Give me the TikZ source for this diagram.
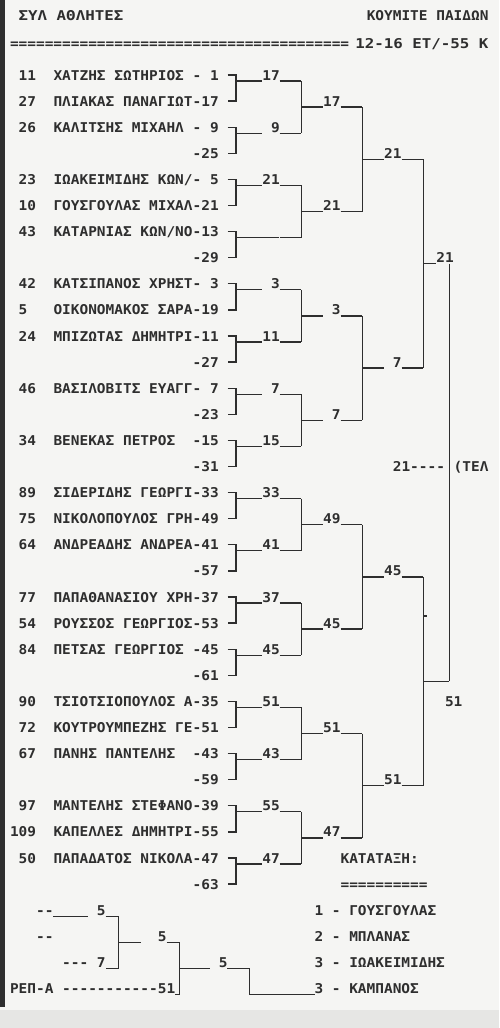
\documentclass[tikz,border=0pt]{standalone}
\usepackage{fontspec}
\newfontfamily\prn[FakeStretch=1.07,Ligatures=TeXOff]{DejaVu Sans Mono}
\newfontfamily\prnw[FakeStretch=1.17,Ligatures=TeXOff]{DejaVu Sans Mono}
\definecolor{ink}{HTML}{2E2E2E}
\definecolor{paper}{HTML}{F5F5F3}
\newcommand\ry[1]{75+26.1*(#1-1)}
\newcommand\cx[1]{10+8.7*(#1)}

\begin{document}
\begin{tikzpicture}[x=1pt,y=-1pt,line width=1.3pt,draw=ink,
  prn/.style={font={\prn\bfseries\fontsize{13.5}{14}\selectfont},text=ink,inner sep=0pt,outer sep=0pt,anchor=base west},
  prr/.style={prn,anchor=base east},
  wide/.style={prn,font={\prnw\bfseries\fontsize{13.5}{14}\selectfont}}]
\fill[paper] (0,0) rectangle (499,1028);
\fill[paper!94!black] (0,1010) rectangle (499,1028);
\useasboundingbox (0,0) rectangle (499,1028);
\fill[ink] (0,0) rectangle (4.5,1007);

% header
\node[wide] (hl) at ({\cx{1}},20) {ΣΥΛ ΑΘΛΗΤΕΣ};
\node[prr] (hr) at ({\cx{55}},20) {ΚΟΥΜΙΤΕ ΠΑΙΔΩΝ};
\node[prn] (eq) at ({\cx{0}},48) {=======================================};
\node[wide,anchor=base east] (ag) at ({\cx{55}},48) {12-16 ΕΤ/-55 Κ};

% players
\node[prn] (p1) at ({\cx{1}},{\ry{1}+5}) {11};
\node[prn] (t1) at ({\cx{5}},{\ry{1}+5}) {ΧΑΤΖΗΣ ΣΩΤΗΡΙΟΣ - 1};
\node[prn] (p2) at ({\cx{1}},{\ry{2}+5}) {27};
\node[prn] (t2) at ({\cx{5}},{\ry{2}+5}) {ΠΛΙΑΚΑΣ ΠΑΝΑΓΙΩΤ-17};
\node[prn] (p3) at ({\cx{1}},{\ry{3}+5}) {26};
\node[prn] (t3) at ({\cx{5}},{\ry{3}+5}) {ΚΑΛΙΤΣΗΣ ΜΙΧΑΗΛ - 9};
\node[prr] (t4) at ({\cx{24}},{\ry{4}+5}) {-25};
\node[prn] (p5) at ({\cx{1}},{\ry{5}+5}) {23};
\node[prn] (t5) at ({\cx{5}},{\ry{5}+5}) {ΙΩΑΚΕΙΜΙΔΗΣ ΚΩΝ/- 5};
\node[prn] (p6) at ({\cx{1}},{\ry{6}+5}) {10};
\node[prn] (t6) at ({\cx{5}},{\ry{6}+5}) {ΓΟΥΣΓΟΥΛΑΣ ΜΙΧΑΛ-21};
\node[prn] (p7) at ({\cx{1}},{\ry{7}+5}) {43};
\node[prn] (t7) at ({\cx{5}},{\ry{7}+5}) {ΚΑΤΑΡΝΙΑΣ ΚΩΝ/ΝΟ-13};
\node[prr] (t8) at ({\cx{24}},{\ry{8}+5}) {-29};
\node[prn] (p9) at ({\cx{1}},{\ry{9}+5}) {42};
\node[prn] (t9) at ({\cx{5}},{\ry{9}+5}) {ΚΑΤΣΙΠΑΝΟΣ ΧΡΗΣΤ- 3};
\node[prn] (p10) at ({\cx{1}},{\ry{10}+5}) {5};
\node[prn] (t10) at ({\cx{5}},{\ry{10}+5}) {ΟΙΚΟΝΟΜΑΚΟΣ ΣΑΡΑ-19};
\node[prn] (p11) at ({\cx{1}},{\ry{11}+5}) {24};
\node[prn] (t11) at ({\cx{5}},{\ry{11}+5}) {ΜΠΙΖΩΤΑΣ ΔΗΜΗΤΡΙ-11};
\node[prr] (t12) at ({\cx{24}},{\ry{12}+5}) {-27};
\node[prn] (p13) at ({\cx{1}},{\ry{13}+5}) {46};
\node[prn] (t13) at ({\cx{5}},{\ry{13}+5}) {ΒΑΣΙΛΟΒΙΤΣ ΕΥΑΓΓ- 7};
\node[prr] (t14) at ({\cx{24}},{\ry{14}+5}) {-23};
\node[prn] (p15) at ({\cx{1}},{\ry{15}+5}) {34};
\node[prn] (t15) at ({\cx{5}},{\ry{15}+5}) {ΒΕΝΕΚΑΣ ΠΕΤΡΟΣ~~-15};
\node[prr] (t16) at ({\cx{24}},{\ry{16}+5}) {-31};
\node[prn] (p17) at ({\cx{1}},{\ry{17}+5}) {89};
\node[prn] (t17) at ({\cx{5}},{\ry{17}+5}) {ΣΙΔΕΡΙΔΗΣ ΓΕΩΡΓΙ-33};
\node[prn] (p18) at ({\cx{1}},{\ry{18}+5}) {75};
\node[prn] (t18) at ({\cx{5}},{\ry{18}+5}) {ΝΙΚΟΛΟΠΟΥΛΟΣ ΓΡΗ-49};
\node[prn] (p19) at ({\cx{1}},{\ry{19}+5}) {64};
\node[prn] (t19) at ({\cx{5}},{\ry{19}+5}) {ΑΝΔΡΕΑΔΗΣ ΑΝΔΡΕΑ-41};
\node[prr] (t20) at ({\cx{24}},{\ry{20}+5}) {-57};
\node[prn] (p21) at ({\cx{1}},{\ry{21}+5}) {77};
\node[prn] (t21) at ({\cx{5}},{\ry{21}+5}) {ΠΑΠΑΘΑΝΑΣΙΟΥ ΧΡΗ-37};
\node[prn] (p22) at ({\cx{1}},{\ry{22}+5}) {54};
\node[prn] (t22) at ({\cx{5}},{\ry{22}+5}) {ΡΟΥΣΣΟΣ ΓΕΩΡΓΙΟΣ-53};
\node[prn] (p23) at ({\cx{1}},{\ry{23}+5}) {84};
\node[prn] (t23) at ({\cx{5}},{\ry{23}+5}) {ΠΕΤΣΑΣ ΓΕΩΡΓΙΟΣ -45};
\node[prr] (t24) at ({\cx{24}},{\ry{24}+5}) {-61};
\node[prn] (p25) at ({\cx{1}},{\ry{25}+5}) {90};
\node[prn] (t25) at ({\cx{5}},{\ry{25}+5}) {ΤΣΙΟΤΣΙΟΠΟΥΛΟΣ Α-35};
\node[prn] (p26) at ({\cx{1}},{\ry{26}+5}) {72};
\node[prn] (t26) at ({\cx{5}},{\ry{26}+5}) {ΚΟΥΤΡΟΥΜΠΕΖΗΣ ΓΕ-51};
\node[prn] (p27) at ({\cx{1}},{\ry{27}+5}) {67};
\node[prn] (t27) at ({\cx{5}},{\ry{27}+5}) {ΠΑΝΗΣ ΠΑΝΤΕΛΗΣ~~-43};
\node[prr] (t28) at ({\cx{24}},{\ry{28}+5}) {-59};
\node[prn] (p29) at ({\cx{1}},{\ry{29}+5}) {97};
\node[prn] (t29) at ({\cx{5}},{\ry{29}+5}) {ΜΑΝΤΕΛΗΣ ΣΤΕΦΑΝΟ-39};
\node[prn] (p30) at ({\cx{0}},{\ry{30}+5}) {109};
\node[prn] (t30) at ({\cx{5}},{\ry{30}+5}) {ΚΑΠΕΛΛΕΣ ΔΗΜΗΤΡΙ-55};
\node[prn] (p31) at ({\cx{1}},{\ry{31}+5}) {50};
\node[prn] (t31) at ({\cx{5}},{\ry{31}+5}) {ΠΑΠΑΔΑΤΟΣ ΝΙΚΟΛΑ-47};
\node[prr] (t32) at ({\cx{24}},{\ry{32}+5}) {-63};

% first round
\foreach \r/\v [count=\i] in {1/17,3/~9,5/21,7/{},9/~3,11/11,13/~7,15/15,17/33,19/41,21/37,23/45,25/51,27/43,29/55,31/47}{
  \coordinate (b\i) at (236,{\ry{\r}+6});
  \coordinate (c\i) at ({\cx{33}+4.35},{\ry{\r}+6});
  \node[prr] (m\i) at ({\cx{31}},{\ry{\r}+5}) {\v};
  \draw ({\cx{25}},{\ry{\r}}) -- (236,{\ry{\r}}) -- (236,{\ry{\r+1}}) -- ({\cx{25}},{\ry{\r+1}});
  \draw (b\i) -- (m\i.west |- b\i);
  \draw (m\i.east |- b\i) -- (c\i);
}
% second round
\foreach \p/\v [count=\i, evaluate=\i as \j using int(2*\i-1), evaluate=\i as \k using int(2*\i)] in {2/17,6/21,10/~3,14/~7,18/49,22/45,26/51,30/47}{
  \coordinate (d\i) at ({\cx{33}+4.35},{\ry{\p}+6});
  \coordinate (e\i) at ({\cx{40}+4.35},{\ry{\p}+6});
  \node[prr] (k\i) at ({\cx{38}},{\ry{\p}+5}) {\v};
  \draw (c\j) -- (c\k);
  \draw (d\i) -- (k\i.west |- d\i);
  \draw (k\i.east |- d\i) -- (e\i);
}
% third round
\foreach \p/\v [count=\i, evaluate=\i as \j using int(2*\i-1), evaluate=\i as \k using int(2*\i)] in {4/21,12/~7,20/45,28/51}{
  \coordinate (f\i) at ({\cx{40}+4.35},{\ry{\p}+6});
  \coordinate (g\i) at ({\cx{47}+4.35},{\ry{\p}+6});
  \node[prr] (l\i) at ({\cx{45}},{\ry{\p}+5}) {\v};
  \draw (e\j) -- (e\k);
  \draw (f\i) -- (l\i.west |- f\i);
  \draw (l\i.east |- f\i) -- (g\i);
}
% semi finals and final
\coordinate (h1) at ({\cx{47}+4.35},{\ry{8}+6});
\coordinate (h2) at ({\cx{47}+4.35},{\ry{24}+6});
\coordinate (z1) at ({\cx{50}+4.35},{\ry{8}+6});
\coordinate (z2) at ({\cx{50}+4.35},{\ry{24}+6});
\node[prr] (w1) at ({\cx{51}},{\ry{8}+5}) {21};
\node[prn] (w2) at ({\cx{50}},{\ry{25}+5}) {51};
\draw (g1) -- (g2);
\draw (g3) -- (g4);
\draw (h1) -- (w1.west |- h1);
\draw (h2) -- (z2);
\draw (z1) -- (z2);
\draw (h2 |- 0,616) -- ++(4,0);
\node[prn] (fs) at ({\cx{44}},{\ry{16}+5}) {21----};
\node[prn] (fn) at ({\cx{51}},{\ry{16}+5}) {(ΤΕΛ};

% repechage
\node[prn] (q1) at ({\cx{3}},{\ry{33}+5}) {--};
\node[prn] (q2) at ({\cx{3}},{\ry{34}+5}) {--};
\node[prn] (q3) at ({\cx{6}},{\ry{35}+5}) {--- 7};
\node[prn] (q4) at ({\cx{0}},{\ry{36}+5}) {ΡΕΠ-Α -----------51};
\node[prn] (s1) at ({\cx{9}},{\ry{33}+5}) {~5};
\node[prn] (s2) at ({\cx{15}},{\ry{34}+5}) {~~5};
\node[prn] (s3) at ({\cx{23}},{\ry{35}+5}) {~5};
\coordinate (u1) at ({\cx{12}+4.35},{\ry{33}+6});
\coordinate (u2) at ({\cx{12}+4.35},{\ry{35}+6});
\coordinate (u3) at ({\cx{12}+4.35},{\ry{34}+6});
\coordinate (u4) at ({\cx{19}+4.35},{\ry{34}+6});
\coordinate (u5) at ({\cx{19}+4.35},{\ry{36}+6});
\coordinate (u6) at ({\cx{19}+4.35},{\ry{35}+6});
\coordinate (u7) at ({\cx{27}+4.35},{\ry{35}+6});
\coordinate (u8) at ({\cx{27}+4.35},{\ry{36}+6});
\draw (q1.east |- u1) -- (s1.west |- u1);
\draw (s1.east |- u1) -- (u1) -- (u2) -- (q3.east |- u2);
\draw (u3) -- (s2.west |- u3);
\draw (s2.east |- u3) -- (u4) -- (u5) -- (q4.east |- u5);
\draw (u6) -- (s3.west |- u6);
\draw (s3.east |- u6) -- (u7) -- (u8);

% ranking
\node[prn] (kt) at ({\cx{38}},{\ry{31}+5}) {ΚΑΤΑΤΑΞΗ:};
\node[prn] (ke) at ({\cx{38}},{\ry{32}+5}) {==========};
\node[prn] (r1) at ({\cx{35}},{\ry{33}+5}) {1 - ΓΟΥΣΓΟΥΛΑΣ};
\node[prn] (r2) at ({\cx{35}},{\ry{34}+5}) {2 - ΜΠΛΑΝΑΣ};
\node[prn] (r3) at ({\cx{35}},{\ry{35}+5}) {3 - ΙΩΑΚΕΙΜΙΔΗΣ};
\node[prn] (r4) at ({\cx{35}},{\ry{36}+5}) {3 - ΚΑΜΠΑΝΟΣ};
\draw (u8) -- (r4.west |- u8);
\end{tikzpicture}
\end{document}
